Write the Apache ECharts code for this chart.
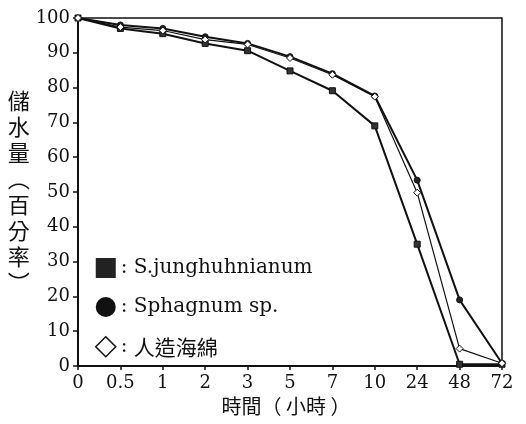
<!DOCTYPE html>
<html>
<head>
<meta charset="utf-8">
<script src="https://cdn.jsdelivr.net/npm/echarts@6/dist/echarts.min.js"></script>
<style>
html,body{margin:0;padding:0;background:#fff;}
#chart{width:526px;height:424px;}
</style>
</head>
<body>
<div id="chart"></div>
<script>
// Data
var hours = ['0', '0.5', '1', '2', '3', '5', '7', '10', '24', '48', '72'];
var seriesNames = ['S.junghuhnianum', 'Sphagnum sp.', '人造海綿'];
var sJunghuhnianum = [100, 97, 95.5, 92.7, 90.6, 84.8, 79.1, 69, 35, 0.5, 0.5];
var sphagnum = [100, 98, 97, 94.6, 92.7, 88.9, 84, 77.6, 53.4, 19, 0.8];
var artificialSponge = [100, 97.4, 96.4, 93.8, 92.4, 88.5, 83.7, 77.4, 49.8, 5, 0.8];
var yTicks = {min: 0, max: 100, interval: 10};

var serifFont = 'DejaVu Serif, Liberation Serif, serif';
var cjkFont = 'Noto Sans CJK TC, Noto Sans CJK SC, sans-serif';

var chart = echarts.init(document.getElementById('chart'), null, {renderer: 'canvas'});
var option = {
  backgroundColor: '#fff',
  animation: false,
  grid: {
    left: 78, right: 24, top: 18, bottom: 58,
    show: true, borderColor: '#111', borderWidth: 1.5, backgroundColor: 'transparent'
  },
  legend: {
    orient: 'vertical',
    left: 90, top: 253,
    itemWidth: 20, itemHeight: 20, itemGap: 19,
    selectedMode: false,
    textStyle: {
      fontFamily: serifFont, fontSize: 20, color: '#111',
      rich: { cjk: { fontFamily: cjkFont, fontSize: 21, color: '#111' } }
    },
    formatter: function (name) {
      if (name === seriesNames[2]) return ': {cjk|' + name + '}';
      return ': ' + name;
    },
    data: [
      {name: seriesNames[0], icon: 'rect', itemStyle: {color: '#222', borderWidth: 0}},
      {name: seriesNames[1], icon: 'circle', itemStyle: {color: '#111', borderWidth: 0}},
      {name: seriesNames[2], icon: 'diamond', itemStyle: {color: '#fff', borderColor: '#111', borderWidth: 1.5}}
    ]
  },
  xAxis: {
    type: 'category',
    data: hours,
    boundaryGap: false,
    name: '時間（ 小時 ）',
    nameLocation: 'middle',
    nameGap: 30,
    nameTextStyle: {fontFamily: cjkFont, fontSize: 20, color: '#111', padding: [0, 8, 0, 0]},
    axisLine: {lineStyle: {color: '#111', width: 2}},
    axisTick: {show: true, length: 4, inside: false, lineStyle: {color: '#111', width: 1.5}},
    axisLabel: {fontFamily: serifFont, fontSize: 18, color: '#111', margin: 8},
    splitLine: {show: false}
  },
  yAxis: {
    type: 'value',
    min: yTicks.min, max: yTicks.max, interval: yTicks.interval,
    name: '儲\n水\n量\n︵\n百\n分\n率\n︶',
    nameLocation: 'middle',
    nameRotate: 0,
    nameGap: 41,
    nameTextStyle: {fontFamily: cjkFont, fontSize: 22, lineHeight: 26, color: '#111', padding: [0, 0, 14, 0]},
    axisLine: {show: true, lineStyle: {color: '#111', width: 2}},
    axisTick: {show: true, length: 5, inside: false, lineStyle: {color: '#111', width: 1.5}},
    axisLabel: {fontFamily: serifFont, fontSize: 18, color: '#111', margin: 8},
    splitLine: {show: false}
  },
  series: [
    {
      name: seriesNames[0], type: 'line', data: sJunghuhnianum,
      symbol: 'rect', symbolSize: 6, showSymbol: true,
      lineStyle: {color: '#111', width: 2},
      itemStyle: {color: '#333', borderColor: '#111', borderWidth: 1},
      z: 3
    },
    {
      name: seriesNames[1], type: 'line', data: sphagnum,
      symbol: 'circle', symbolSize: 6, showSymbol: true,
      lineStyle: {color: '#111', width: 2},
      itemStyle: {color: '#222', borderColor: '#111', borderWidth: 1},
      z: 3
    },
    {
      name: seriesNames[2], type: 'line', data: artificialSponge,
      symbol: 'diamond', symbolSize: 7, showSymbol: true,
      lineStyle: {color: '#111', width: 1.2},
      itemStyle: {color: '#fff', borderColor: '#111', borderWidth: 1},
      z: 4
    }
  ]
};
chart.setOption(option);
</script>
</body>
</html>
